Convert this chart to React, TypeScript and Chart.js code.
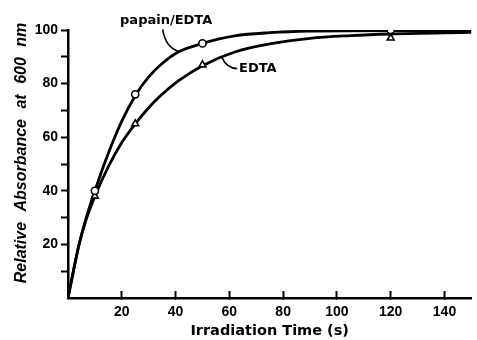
import React, { useEffect, useRef } from "react";
import { Chart, registerables } from "chart.js";

Chart.register(...registerables);

// Measured samples (markers)
const sampleTimes = [10, 25, 50, 120];
const papainValues = [40, 76, 95, 100];
const edtaValues = [38, 65, 87, 97];

// Fitted curves as drawn in the figure
const papainCurveTimes = [0, 2, 4, 6.5, 10, 15, 20, 25, 30, 35, 41, 50, 62, 75, 90, 120, 150];
const papainCurveValues = [0, 10, 19.5, 29, 40, 54, 66, 75.5, 82.5, 87.5, 91.8, 95, 97.8, 99, 99.6, 99.8, 99.6];
const edtaCurveTimes = [0, 2, 4, 6.5, 10, 15, 20, 25, 30, 35, 41, 50, 62, 75, 90, 105, 120, 150];
const edtaCurveValues = [0, 10, 19.5, 28.5, 38, 49, 58, 65, 71, 76, 81, 86.7, 91.8, 94.8, 96.9, 97.9, 98.5, 99.1];

// Axis labels
const xTickLabels = [20, 40, 60, 80, 100, 120, 140];
const yTickLabels = [20, 40, 60, 80, 100];
const xTitle = "Irradiation Time (s)";
const yTitle = "Relative Absorbance at 600 nm";
const papainLabel = "papain/EDTA";
const edtaLabel = "EDTA";

const pts = (xs: number[], ys: number[]) => xs.map((x, i) => ({ x, y: ys[i] }));

const tickFont = { family: "'Liberation Sans', Arial, sans-serif", size: 14, weight: "bold" as const };

const annotationPlugin = {
  id: "annotations",
  afterDatasetsDraw(chart: any) {
    const { ctx, scales } = chart;
    const x = scales.x;
    const y = scales.y;
    const px = (v: number) => x.getPixelForValue(v);
    const py = (v: number) => y.getPixelForValue(v);
    ctx.save();
    ctx.fillStyle = "#000";
    ctx.strokeStyle = "#000";
    ctx.font = "bold 13px 'DejaVu Sans', sans-serif";
    ctx.textBaseline = "middle";
    ctx.textAlign = "center";
    ctx.fillText(papainLabel, px(36.5), py(103.4));
    ctx.textAlign = "left";
    ctx.fillText(edtaLabel, px(63.6), py(85.6));

    ctx.lineWidth = 1.6;
    ctx.beginPath();
    ctx.moveTo(px(35.2), py(100.2));
    ctx.quadraticCurveTo(px(36.3), py(93.3), px(41.4), py(91.9));
    ctx.stroke();

    ctx.beginPath();
    ctx.moveTo(px(57.2), py(89.8));
    ctx.quadraticCurveTo(px(59), py(85.8), px(62.9), py(85.6));
    ctx.stroke();

    // y axis title
    ctx.font = "italic bold 16px 'Liberation Sans', Arial, sans-serif";
    try { (ctx as any).wordSpacing = "6px"; } catch (e) {}
    ctx.translate(22, (chart.chartArea.top + chart.chartArea.bottom) / 2 - 11);
    ctx.rotate(-Math.PI / 2);
    ctx.textAlign = "center";
    ctx.textBaseline = "middle";
    ctx.fillText(yTitle, 0, 0);
    ctx.restore();
  },
};

export default function App() {
  const canvasRef = useRef<HTMLCanvasElement | null>(null);

  useEffect(() => {
    if (!canvasRef.current) return;
    const chart = new Chart(canvasRef.current, {
      type: "line",
      data: {
        datasets: [
          {
            label: "papain/EDTA samples",
            data: pts(sampleTimes, papainValues),
            showLine: false,
            pointStyle: "circle",
            pointRadius: 3.6,
            pointBackgroundColor: "#fff",
            pointBorderColor: "#000",
            pointBorderWidth: 1.6,
          },
          {
            label: "EDTA samples",
            data: pts(sampleTimes, edtaValues),
            showLine: false,
            pointStyle: "triangle",
            pointRadius: 4,
            pointBackgroundColor: "#fff",
            pointBorderColor: "#000",
            pointBorderWidth: 1.6,
          },
          {
            label: "papain/EDTA",
            data: pts(papainCurveTimes, papainCurveValues),
            showLine: true,
            pointRadius: 0,
            borderColor: "#000",
            borderWidth: 2.8,
            cubicInterpolationMode: "monotone",
            fill: false,
          },
          {
            label: "EDTA",
            data: pts(edtaCurveTimes, edtaCurveValues),
            showLine: true,
            pointRadius: 0,
            borderColor: "#000",
            borderWidth: 2.8,
            cubicInterpolationMode: "monotone",
            fill: false,
          },
        ],
      },
      options: {
        animation: false,
        responsive: false,
        devicePixelRatio: 1,
        layout: { padding: { top: 30, right: 2, left: 0, bottom: 0 } },
        plugins: { legend: { display: false }, tooltip: { enabled: false } },
        scales: {
          x: {
            type: "linear",
            min: 0,
            max: 150,
            border: { display: true, color: "#000", width: 2.5 },
            grid: {
              display: true,
              drawOnChartArea: false,
              drawTicks: true,
              tickLength: -7,
              tickWidth: 2,
              color: "#000",
              tickColor: (c: any) => (c.tick && c.tick.value === 0 ? "rgba(0,0,0,0)" : "#000"),
            },
            ticks: {
              stepSize: 20,
              includeBounds: false,
              autoSkip: false,
              maxRotation: 0,
              padding: 13,
              color: "#000",
              font: tickFont,
              callback: (v: any) => (xTickLabels.includes(Number(v)) ? String(v) : ""),
            },
            title: {
              display: true,
              text: xTitle,
              color: "#000",
              font: { family: "'DejaVu Sans', sans-serif", size: 14.5, weight: "bold" },
              padding: { top: 0, bottom: 0 },
            },
            afterFit: (s: any) => {
              s.height = 42;
            },
          },
          y: {
            type: "linear",
            min: 0,
            max: 100,
            border: { display: true, color: "#000", width: 2.5 },
            grid: {
              display: true,
              drawOnChartArea: false,
              drawTicks: true,
              tickLength: 7,
              tickWidth: 2,
              color: "#000",
              tickColor: (c: any) => (c.tick && c.tick.value === 0 ? "rgba(0,0,0,0)" : "#000"),
            },
            ticks: {
              stepSize: 10,
              autoSkip: false,
              padding: 3,
              color: "#000",
              font: tickFont,
              callback: (v: any) => (yTickLabels.includes(Number(v)) ? String(v) : ""),
            },
            afterFit: (s: any) => {
              s.width = 68;
            },
          },
        },
      },
      plugins: [annotationPlugin],
    } as any);
    return () => chart.destroy();
  }, []);

  return (
    <div style={{ position: "fixed", left: 0, top: 0, width: 477, height: 340, background: "#fff" }}>
      <canvas ref={canvasRef} width={477} height={340} style={{ width: 477, height: 340, display: "block" }} />
    </div>
  );
}
